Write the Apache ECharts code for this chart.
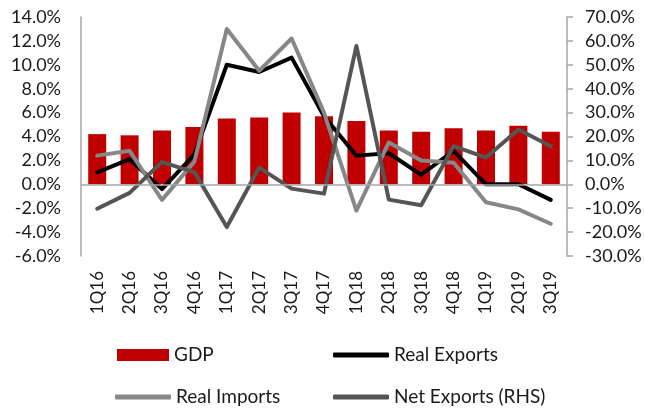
<!DOCTYPE html>
<html><head><meta charset="utf-8">
<script src="https://cdn.jsdelivr.net/npm/echarts@6/dist/echarts.min.js"></script>
<style>html,body{margin:0;padding:0;background:#fff}#c{width:645px;height:408px}</style>
</head><body><div id="c"></div>
<script>
const categories = ['1Q16','2Q16','3Q16','4Q16','1Q17','2Q17','3Q17','4Q17','1Q18','2Q18','3Q18','4Q18','1Q19','2Q19','3Q19'];
const gdp = [4.2,4.1,4.5,4.8,5.5,5.6,6.0,5.7,5.3,4.5,4.4,4.7,4.5,4.9,4.4];
const realExports = [1.0,2.1,-0.4,2.5,10.0,9.4,10.6,5.7,2.4,2.6,0.8,2.8,0.0,0.0,-1.3];
const realImports = [2.4,2.8,-1.3,1.9,13.0,9.5,12.2,6.0,-2.2,3.5,2.0,1.8,-1.5,-2.1,-3.3];
const netExports = [-10.2,-3.6,9.3,5.1,-17.9,7.0,-1.8,-3.9,57.9,-6.4,-8.8,16.0,11.2,22.9,15.9];
const leftTicks = {min:-6, max:14, interval:2};
const rightTicks = {min:-30, max:70, interval:10};

const FONT = 'Lato';
const TXT = '#1a1a1a';
const AX = '#a6a6a6';
const chart = echarts.init(document.getElementById('c'), null, {renderer:'canvas'});
const lineStyle = (c)=>({color:c,width:4,cap:'round',join:'round'});
const legendBase = {orient:'horizontal', padding:0, itemGap:0, textStyle:{fontFamily:FONT,fontSize:19,color:TXT}, selectedMode:false};
chart.setOption({
  animation:false,
  grid:{left:81,right:78,top:17,bottom:152,containLabel:false},
  xAxis:{type:'category',data:categories,
    axisLine:{show:false,onZero:false},axisTick:{show:false},
    axisLabel:{rotate:90,margin:15,fontFamily:FONT,fontSize:17,color:TXT,interval:0}},
  yAxis:[
    {type:'value',min:leftTicks.min,max:leftTicks.max,interval:leftTicks.interval,
     axisLine:{show:true,lineStyle:{color:AX,width:1.5}},axisTick:{show:false},splitLine:{show:false},
     axisLabel:{margin:20,fontFamily:FONT,fontSize:18,color:TXT,formatter:v=>v.toFixed(1)+'%'}},
    {type:'value',position:'right',min:rightTicks.min,max:rightTicks.max,interval:rightTicks.interval,
     axisLine:{show:true,lineStyle:{color:AX,width:1.5}},axisTick:{show:true,length:6,lineStyle:{color:AX,width:1.5}},splitLine:{show:false},
     axisLabel:{margin:18,fontFamily:FONT,fontSize:18,color:TXT,formatter:v=>v.toFixed(1)+'%'}}
  ],
  legend:[
    Object.assign({},legendBase,{left:117,top:345.5,itemWidth:52,itemHeight:12,data:[{name:'GDP',icon:'rect'}]}),
    Object.assign({},legendBase,{left:333,top:345.5,itemWidth:56,itemHeight:5,data:[{name:'Real Exports',icon:'roundRect'}]}),
    Object.assign({},legendBase,{left:115,top:387.5,itemWidth:56,itemHeight:5,data:[{name:'Real Imports',icon:'roundRect'}]}),
    Object.assign({},legendBase,{left:333,top:387.5,itemWidth:56,itemHeight:5,data:[{name:'Net Exports (RHS)',icon:'roundRect'}]})
  ],
  series:[
    {name:'GDP',type:'bar',data:gdp,barWidth:18,itemStyle:{color:'#c00000'},
     markLine:{silent:true,symbol:'none',label:{show:false},lineStyle:{color:AX,width:1.5,type:'solid'},data:[{yAxis:0}]}},
    {name:'Real Exports',type:'line',data:realExports,showSymbol:false,symbol:'none',lineStyle:lineStyle('#000000'),itemStyle:{color:'#000000'}},
    {name:'Real Imports',type:'line',data:realImports,showSymbol:false,symbol:'none',lineStyle:lineStyle('#878787'),itemStyle:{color:'#878787'}},
    {name:'Net Exports (RHS)',type:'line',yAxisIndex:1,data:netExports,showSymbol:false,symbol:'none',lineStyle:lineStyle('#555555'),itemStyle:{color:'#555555'}}
  ]
});
</script></body></html>
